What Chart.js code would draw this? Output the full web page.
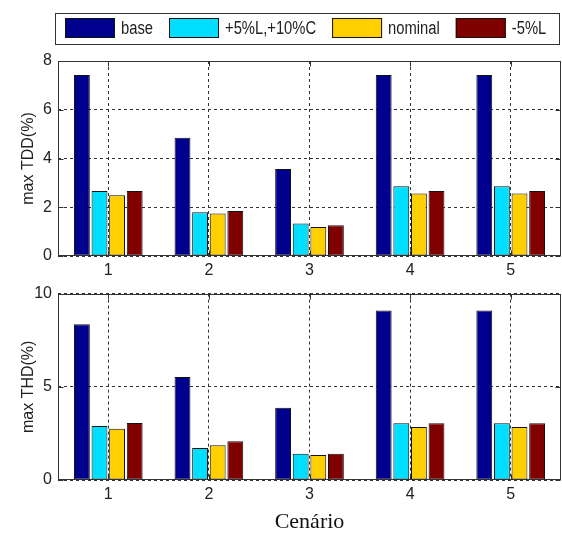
<!DOCTYPE html>
<html><head><meta charset="utf-8">
<script src="https://cdn.jsdelivr.net/npm/chart.js@4.4.1/dist/chart.umd.min.js"></script>
<style>
html,body{margin:0;padding:0;background:#fff;}
#wrap{position:relative;width:562px;height:533px;overflow:hidden;}
canvas{position:absolute;left:0;}
#c1{top:0;} #c2{top:278px;}
</style></head><body>
<div id="wrap"><canvas id="c1" width="562" height="278"></canvas><canvas id="c2" width="562" height="255"></canvas></div>
<script>
// ---- data ----
const categories = ['1', '2', '3', '4', '5'];
const seriesLabels = ['base', '+5%L,+10%C', 'nominal', '-5%L'];
const tddBase    = [7.43, 4.85, 3.57, 7.43, 7.43];
const tddPlus    = [2.67, 1.79, 1.33, 2.86, 2.86];
const tddNominal = [2.49, 1.74, 1.19, 2.56, 2.56];
const tddMinus   = [2.67, 1.85, 1.26, 2.67, 2.67];
const thdBase    = [8.35, 5.52, 3.88, 9.09, 9.09];
const thdPlus    = [2.90, 1.72, 1.41, 3.04, 3.04];
const thdNominal = [2.75, 1.87, 1.34, 2.84, 2.84];
const thdMinus   = [3.06, 2.08, 1.41, 3.04, 3.04];
const tddTicks = [0, 2, 4, 6, 8];
const thdTicks = [0, 5, 10];
const tddTitle = 'max TDD(%)';
const thdTitle = 'max THD(%)';
const xTitle = 'Cenário';

// ---- styles ----
const seriesColors = ['#00008f', '#00dfff', '#ffcf00', '#800000'];
const SANS = "'Liberation Sans',Arial,sans-serif";
const SERIF = "'Liberation Serif','DejaVu Serif',serif";
const INK = '#222';

const boxedLegend = {
  id: 'boxedLegend',
  afterDraw(chart, args, o) {
    if (!o || !o.show) return;
    const ctx = chart.ctx;
    ctx.save();
    ctx.font = o.fontSize + 'px ' + SANS;
    ctx.strokeStyle = '#333'; ctx.lineWidth = 1;
    ctx.strokeRect(o.boxLeft + 0.5, o.boxTop + 0.5, o.boxRight - o.boxLeft, o.boxBottom - o.boxTop);
    let x = o.startX;
    chart.data.datasets.forEach(ds => {
      ctx.fillStyle = ds.backgroundColor;
      ctx.fillRect(x, o.swTop, o.swW, o.swH);
      ctx.strokeStyle = '#111';
      ctx.strokeRect(x + 0.5, o.swTop + 0.5, o.swW - 1, o.swH - 1);
      const tx = x + o.swW + o.gap;
      ctx.save();
      ctx.translate(tx, o.swTop + o.swH / 2 + 1);
      ctx.scale(o.squeeze, 1);
      ctx.fillStyle = INK; ctx.textBaseline = 'middle'; ctx.textAlign = 'left';
      ctx.fillText(ds.label, 0, 0);
      ctx.restore();
      x = tx + ctx.measureText(ds.label).width * o.squeeze + o.itemPad;
    });
    ctx.restore();
  }
};

const framePlugin = {
  id: 'frame',
  afterDatasetsDraw(chart) {
    const {ctx, chartArea: a, scales} = chart;
    ctx.save();
    ctx.strokeStyle = '#333'; ctx.lineWidth = 1; ctx.setLineDash([]);
    const L = Math.round(a.left) + 0.5, R = Math.round(a.right) - 0.5;
    const T = Math.round(a.top) + 0.5, B = Math.round(a.bottom) - 0.5;
    ctx.strokeRect(L, T, R - L, B - T);
    ctx.beginPath();
    scales.y.ticks.forEach((t, i) => {
      const y = Math.round(scales.y.getPixelForTick(i)) + 0.5;
      ctx.moveTo(L, y); ctx.lineTo(L + 5, y);
      ctx.moveTo(R, y); ctx.lineTo(R - 5, y);
    });
    scales.x.ticks.forEach((t, i) => {
      const x = Math.round(scales.x.getPixelForTick(i)) + 0.5;
      ctx.moveTo(x, B); ctx.lineTo(x, B - 5);
      ctx.moveTo(x, T); ctx.lineTo(x, T + 5);
    });
    ctx.stroke();
    ctx.restore();
  }
};

function makeChart(id, seriesArrays, tickArr, yTitleText, cfg) {
  const datasets = seriesArrays.map((arr, i) => ({
    label: seriesLabels[i],
    data: arr,
    backgroundColor: seriesColors[i],
    borderColor: '#111',
    borderWidth: 1,
    borderSkipped: false,
    categoryPercentage: 0.7,
    barPercentage: 0.9
  }));
  return new Chart(document.getElementById(id), {
    type: 'bar',
    data: {labels: categories, datasets},
    plugins: [framePlugin, boxedLegend],
    options: {
      responsive: false,
      animation: false,
      devicePixelRatio: 1,
      events: [],
      layout: {padding: cfg.padding, autoPadding: false},
      plugins: {
        legend: {display: false},
        tooltip: {enabled: false},
        boxedLegend: cfg.legend || {show: false}
      },
      scales: {
        x: {
          offset: true,
          grid: {offset: false, color: '#333', lineWidth: 1, drawTicks: false},
          border: {display: false, dash: [3, 3]},
          ticks: {color: INK, font: {family: SANS, size: 16}, padding: 5, maxRotation: 0},
          title: cfg.xTitle ? {display: true, text: cfg.xTitle, color: '#111',
                   font: {family: SERIF, size: 22, lineHeight: 1}, padding: {top: 0, bottom: 0}} : {display: false},
          afterFit: s => { s.height = cfg.xHeight; }
        },
        y: {
          min: tickArr[0], max: tickArr[tickArr.length - 1],
          afterBuildTicks: s => { s.ticks = tickArr.map(v => ({value: v})); },
          grid: {color: '#333', lineWidth: 1, drawTicks: false},
          border: {display: false, dash: [3, 3]},
          ticks: {color: INK, font: {family: SANS, size: 16}, padding: 6},
          title: {display: true, text: yTitleText, color: INK,
                  font: {family: SANS, size: 16, lineHeight: 1}, padding: {top: 21, bottom: 0}},
          afterFit: s => { s.width = 58; }
        }
      }
    }
  });
}

makeChart('c1', [tddBase, tddPlus, tddNominal, tddMinus], tddTicks, tddTitle, {
  padding: {top: 61, left: 0, right: 1, bottom: 0},
  xHeight: 22,
  legend: {show: true, fontSize: 18, squeeze: 0.82, boxLeft: 55, boxTop: 13, boxRight: 559, boxBottom: 44,
           startX: 65, swTop: 18, swW: 50, swH: 20, gap: 6, itemPad: 16}
});
makeChart('c2', [thdBase, thdPlus, thdNominal, thdMinus], thdTicks, thdTitle, {
  padding: {top: 8, left: 0, right: 1, bottom: 0},
  xHeight: 53,
  xTitle: xTitle
});
</script>
</body></html>
